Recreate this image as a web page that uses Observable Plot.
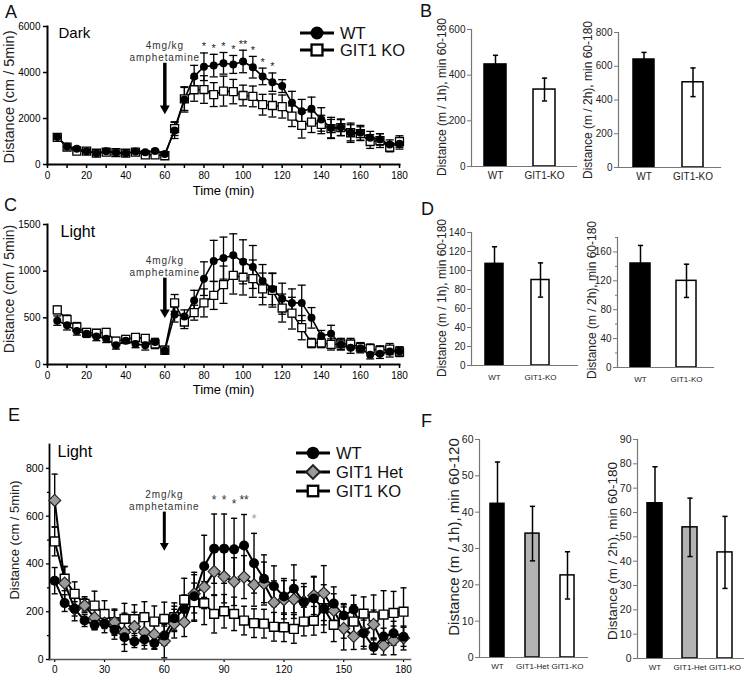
<!DOCTYPE html>
<html><head><meta charset="utf-8">
<script src="https://cdn.jsdelivr.net/npm/d3@7"></script>
<script src="https://cdn.jsdelivr.net/npm/@observablehq/plot@0.6"></script>
<style>
body{margin:0;background:#fff;}
#root{position:relative;width:746px;height:676px;overflow:hidden;background:#fff;}
.ann{letter-spacing:0.9px;}
</style></head><body><div id="root"></div><script>
// ---------------- DATA ----------------
const timeMin = [5,10,15,20,25,30,35,40,45,50,55,60,65,70,75,80,85,90,95,100,105,110,115,120,125,130,135,140,145,150,155,160,165,170,175,180];

// Panel A (Dark, 4 mg/kg)
const aWT    = [1200,780,680,580,490,580,520,490,565,536,590,460,1480,2830,3830,4250,4300,4400,4350,4480,4230,3830,3580,3410,2680,2320,2420,1960,1590,1620,1380,1380,1160,1090,870,900];
const aWTerr = [110,90,80,70,60,70,60,60,60,60,70,80,350,550,480,600,490,470,390,490,470,360,400,280,500,510,510,510,460,360,420,320,280,250,200,230];
const aKO    = [1180,760,580,580,490,540,520,490,540,420,420,380,1560,2850,3250,3260,3040,3190,3170,3000,2960,2600,2565,2520,2100,1700,1840,1740,1560,1600,1380,1340,1000,1040,750,1000];
const aKOerr = [100,80,70,70,70,70,70,70,70,80,70,60,300,500,500,600,520,650,530,450,450,450,500,500,450,550,450,400,400,350,350,300,300,300,200,250];
const aStarTimes = [80,85,90,95,100,105,110,115];
const aStarLabels = ["*","*","*","*","**","*","*","*"];

// Panel C (Light, 4 mg/kg)
const cWT    = [470,420,360,330,300,275,205,255,220,205,240,150,535,515,685,920,1110,1140,1170,1100,1045,895,810,705,660,660,500,305,330,215,180,175,105,115,140,140];
const cWTerr = [50,50,45,40,45,40,40,30,40,50,40,40,80,70,110,180,220,225,230,236,230,176,170,166,150,190,110,60,90,60,60,50,45,50,60,50];
const cKO    = [585,480,400,345,335,345,250,270,290,280,220,155,660,455,555,660,740,855,955,935,920,810,795,605,550,395,230,230,215,220,220,185,170,150,165,135];
const cKOerr = [40,50,50,40,40,40,40,40,40,40,50,40,90,70,80,150,150,200,200,190,200,170,180,150,170,130,50,50,60,60,60,50,50,50,60,50];

// Panel E (Light, 2 mg/kg)
const eWT     = [330,236,212,163,145,150,125,93,75,84,68,100,173,210,265,390,464,464,461,477,403,338,307,264,296,240,255,213,234,184,209,110,52,96,110,95];
const eWTerr  = [55,35,30,25,20,20,40,30,25,25,25,40,50,60,100,130,145,145,130,130,125,100,85,75,100,65,90,100,70,50,60,55,30,35,50,40];
const eHet    = [666,320,212,226,175,152,156,114,138,114,105,77,150,156,275,303,368,347,326,345,313,318,239,250,252,243,268,278,205,130,97,114,147,59,80,90];
const eHetErr = [110,70,50,30,50,40,50,80,60,70,60,70,60,60,80,90,100,110,100,90,90,90,90,80,80,75,80,115,70,90,55,70,60,40,60,50];
const eKO     = [494,338,275,233,226,191,156,170,169,177,159,170,177,250,240,236,191,202,191,163,152,150,137,135,128,159,162,215,145,159,159,192,180,188,195,200];
const eKOerr  = [60,50,50,30,60,55,55,65,60,65,65,70,60,90,80,90,80,70,70,60,60,60,60,60,60,60,60,70,70,70,70,70,90,100,90,100];
const eStarTimes = [85,90,95,100,105];
const eStarLabels = ["*","*","*","**","*"];
const eStarColors = ["#333","#333","#333","#333","#999"];

// Bar panels
const catsKO = ["WT","GIT1-KO"];
const catsAll = ["WT","GIT1-Het","GIT1-KO"];
const bLeftVals = [447,337],  bLeftErr = [40,50];
const bRightVals = [640,505], bRightErr = [42,85];
const dLeftVals = [107,90],   dLeftErr = [18,18];
const dRightVals = [144,120], dRightErr = [25,23];
const fLeftVals = [42.3,34.1,22.6], fLeftErr = [11.5,7.5,6.5];
const fRightVals = [63.8,53.9,43.6], fRightErr = [15,12,14.8];
const barFills2 = ["#000","#fff"];
const barFills3 = ["#000","#b3b3b3","#fff"];

// ticks
const xTicksAC = [0,10,20,30,40,50,60,70,80,90,100,110,120,130,140,150,160,170,180];
const yTicksA = [0,2000,4000,6000];
const yTicksC = [0,500,1000,1500];
const xTicksE = [5,30,60,90,120,150,180];
const yTicksE = [0,200,400,600,800];
const yMinorE = [100,300,500,700];

// annotations
const injTime = 60;
const arrowA = {top:4400, tip:2200, label:"4mg/kg\namphetamine"};
const arrowC = {top:925, tip:500, label:"4mg/kg\namphetamine"};
const arrowE = {top:617, tip:456, label:"2mg/kg\namphetamine"};

// axis titles (rotated) and panel letters
const yTitles = ["Distance (cm / 5min)","Distance (cm / 5min)","Distance (cm / 5min)",
  "Distance (m / 1h), min 60-180","Distance (m / 2h), min 60-180",
  "Distance (m / 1h), min 60-180","Distance (m / 2h), min 60-180",
  "Distance (m / 1h), min 60-120","Distance (m / 2h), min 60-180"];
const yTitlePos = [[9,97,14.5],[9,289,14],[14,540,13],[442,97,12],[588,100,12],[442,298,12],[592,300,12],[453,537,15],[612,551,13.5]];
const panelLetters = ["A","B","C","D","E","F"];
const letterPos = [[5,18],[420,17],[4,211],[421,215],[8,421],[421,427]];
const legendA = [{label:"WT", sym:"circle"},{label:"GIT1 KO", sym:"square"}];
const legendE = [{label:"WT", sym:"circle"},{label:"GIT1 Het", sym:"diamond"},{label:"GIT1 KO", sym:"square"}];

// ---------------- HELPERS ----------------
const FONT = '"Liberation Sans", Arial, Helvetica, sans-serif';
const root = document.getElementById("root");
const capSym = {draw(ctx, size){ const r = Math.sqrt(size/Math.PI); ctx.moveTo(-r,0); ctx.lineTo(r,0); }};
const plain = d => String(d);

function place(svg, left, top){
  svg.style.position = "absolute";
  svg.style.left = left + "px";
  svg.style.top = top + "px";
  root.appendChild(svg);
}
function tidy(series){
  return series.flatMap(s => timeMin.map((t,i) => ({t, s:s.name, v:s.mean[i], lo:s.mean[i]-s.err[i], hi:s.mean[i]+s.err[i]})));
}
function errorBars(rows, x, capR, sw){
  return [
    Plot.ruleX(rows, {x, y1:"lo", y2:"hi", stroke:"#000", strokeWidth:sw}),
    Plot.dot(rows, {x, y:"hi", symbol:capSym, r:capR, stroke:"#000", fill:"none", strokeWidth:sw}),
    Plot.dot(rows, {x, y:"lo", symbol:capSym, r:capR, stroke:"#000", fill:"none", strokeWidth:sw})
  ];
}
function arrowMarks(a, shaftW, headR, headDy){
  const d = [{t:injTime, top:a.top, tip:a.tip, label:a.label}];
  return [
    Plot.ruleX(d, {x:"t", y1:"top", y2:"tip", stroke:"#000", strokeWidth:shaftW, insetBottom:5}),
    Plot.dot(d, {x:"t", y:"tip", symbol:"triangle", rotate:180, r:headR, fill:"#000", stroke:"none", dy:headDy}),
    Plot.text(d, {x:"t", y:"top", text:"label", lineAnchor:"bottom", dy:-2, fontSize:10, lineHeight:1.2, fill:"#333", className:"ann"})
  ];
}
function starRows(times, labels, mean, err, colors){
  return times.map((t,i) => { const k = timeMin.indexOf(t); return {t, lab:labels[i], y:mean[k]+err[k], c: colors ? colors[i] : "#222"}; });
}

// ---------------- PANEL A ----------------
{
  const rows = tidy([{name:"WT", mean:aWT, err:aWTerr},{name:"GIT1 KO", mean:aKO, err:aKOerr}]);
  const stars = starRows(aStarTimes, aStarLabels, aWT, aWTerr);
  const svg = Plot.plot({
    width:405, height:200, marginLeft:47, marginRight:6, marginTop:26, marginBottom:36,
    x:{domain:[0,180]}, y:{domain:[0,6000]},
    style:{fontFamily:FONT, background:"transparent", overflow:"visible", color:"#000"},
    marks:[
      Plot.axisY(yTicksA, {tickSize:4, tickPadding:3, fontSize:10, label:null, strokeWidth:1.5, tickFormat:plain}),
      Plot.axisX(xTicksAC, {tickSize:4, tickPadding:3, fontSize:10, label:null, strokeWidth:1.5, tickFormat:d => d % 20 === 0 ? String(d) : ""}),
      Plot.frame({anchor:"left", strokeWidth:2}),
      Plot.frame({anchor:"bottom", strokeWidth:2}),
      ...errorBars(rows, "t", 4, 1.3),
      Plot.line(rows, {x:"t", y:"v", z:"s", stroke:"#000", strokeWidth:1.6}),
      Plot.dot(rows.filter(d => d.s === "GIT1 KO"), {x:"t", y:"v", symbol:"square", r:4.5, fill:"#fff", stroke:"#000", strokeWidth:1.3}),
      Plot.dot(rows.filter(d => d.s === "WT"), {x:"t", y:"v", symbol:"circle", r:4, fill:"#000", stroke:"none"}),
      Plot.text(stars, {x:"t", y:"y", text:"lab", dy:-6, fontSize:11, fill:"#222"}),
      ...arrowMarks(arrowA, 3.5, 3.7, -5.5),
      Plot.text(["Dark"], {text:d => d, frameAnchor:"top-left", dx:11, dy:1, lineAnchor:"top", textAnchor:"start", fontSize:15}),
      Plot.text(["Time (min)"], {text:d => d, frameAnchor:"bottom", lineAnchor:"middle", dy:26, fontSize:13})
    ]
  });
  place(svg, 0, 0);
}

// ---------------- PANEL C ----------------
{
  const rows = tidy([{name:"WT", mean:cWT, err:cWTerr},{name:"GIT1 KO", mean:cKO, err:cKOerr}]);
  const svg = Plot.plot({
    width:405, height:210, marginLeft:47, marginRight:6, marginTop:34, marginBottom:36,
    x:{domain:[0,180]}, y:{domain:[0,1500]},
    style:{fontFamily:FONT, background:"transparent", overflow:"visible", color:"#000"},
    marks:[
      Plot.axisY(yTicksC, {tickSize:4, tickPadding:3, fontSize:10, label:null, strokeWidth:1.5, tickFormat:plain}),
      Plot.axisX(xTicksAC, {tickSize:4, tickPadding:3, fontSize:10, label:null, strokeWidth:1.5, tickFormat:d => d % 20 === 0 ? String(d) : ""}),
      Plot.frame({anchor:"left", strokeWidth:2}),
      Plot.frame({anchor:"bottom", strokeWidth:2}),
      ...errorBars(rows, "t", 4, 1.3),
      Plot.line(rows, {x:"t", y:"v", z:"s", stroke:"#000", strokeWidth:1.6}),
      Plot.dot(rows.filter(d => d.s === "GIT1 KO"), {x:"t", y:"v", symbol:"square", r:4.5, fill:"#fff", stroke:"#000", strokeWidth:1.3}),
      Plot.dot(rows.filter(d => d.s === "WT"), {x:"t", y:"v", symbol:"circle", r:4, fill:"#000", stroke:"none"}),
      ...arrowMarks(arrowC, 3.5, 3.7, -5.5),
      Plot.text(["Light"], {text:d => d, frameAnchor:"top-left", dx:13, dy:1, lineAnchor:"top", textAnchor:"start", fontSize:16}),
      Plot.text(["Time (min)"], {text:d => d, frameAnchor:"bottom", lineAnchor:"middle", dy:25, fontSize:13})
    ]
  });
  place(svg, 0, 190);
}

// ---------------- PANEL E ----------------
{
  const rows = tidy([{name:"WT", mean:eWT, err:eWTerr},{name:"GIT1 Het", mean:eHet, err:eHetErr},{name:"GIT1 KO", mean:eKO, err:eKOerr}]);
  const stars = starRows(eStarTimes, eStarLabels, eWT, eWTerr, eStarColors);
  const svg = Plot.plot({
    width:415, height:286, marginLeft:49, marginRight:5, marginTop:54, marginBottom:17,
    x:{domain:[2.4,183.5]}, y:{domain:[0,900]},
    color:{type:"identity"},
    style:{fontFamily:FONT, background:"transparent", overflow:"visible", color:"#000"},
    marks:[
      Plot.axisY(yTicksE, {tickSize:3, tickPadding:3, fontSize:10.5, label:null, strokeWidth:1.3, tickFormat:plain}),
      Plot.axisY(yMinorE, {tickSize:2, tickFormat:() => "", label:null, strokeWidth:1.2}),
      Plot.axisX(xTicksE, {tickSize:3, tickPadding:3, fontSize:10, label:null, strokeWidth:1.2, tickFormat:d => d === 5 ? "0" : String(d)}),
      Plot.frame({anchor:"left", strokeWidth:1.8}),
      Plot.frame({anchor:"bottom", stroke:"#555", strokeWidth:1.5}),
      ...errorBars(rows, "t", 3, 1.4),
      Plot.line(rows, {x:"t", y:"v", z:"s", stroke:"#000", strokeWidth:2}),
      Plot.dot(rows.filter(d => d.s === "GIT1 KO"), {x:"t", y:"v", symbol:"square", r:5, fill:"#fff", stroke:"#000", strokeWidth:1.4}),
      Plot.dot(rows.filter(d => d.s === "GIT1 Het"), {x:"t", y:"v", symbol:"diamond2", r:5.4, fill:"#9a9a9a", stroke:"#222", strokeWidth:1.2}),
      Plot.dot(rows.filter(d => d.s === "WT"), {x:"t", y:"v", symbol:"circle", r:5, fill:"#000", stroke:"none"}),
      Plot.text(stars, {x:"t", y:"y", text:"lab", fill:"c", dy:-14, fontSize:12}),
      ...arrowMarks(arrowE, 3, 3.3, -5),
      Plot.text(["Light"], {text:d => d, frameAnchor:"top-left", dx:8, dy:1, lineAnchor:"top", textAnchor:"start", fontSize:16})
    ]
  });
  place(svg, 0, 390);
}

// ---------------- BAR PANELS ----------------
function barChart(o){
  const rows = o.cats.map((c,i) => ({c, v:o.vals[i], lo:o.vals[i]-o.errs[i], hi:o.vals[i]+o.errs[i], f:o.fills[i]}));
  const marks = [
    Plot.barY(rows, {x:"c", y:"v", fill:"f", stroke:"#000", strokeWidth:1.5}),
    ...errorBars(rows, "c", 2.6, 1.5),
    Plot.axisY(o.yTicks, {tickSize:4, tickPadding:2, fontSize:o.tickFs, label:null, stroke:"#777", fill:"#222", tickFormat:plain}),
    Plot.axisX({tickSize:0, tickPadding:o.xPad, fontSize:o.xFs, label:null, fill:"#222"}),
    Plot.frame({anchor:"left", stroke:"#777", strokeWidth:1.2}),
    Plot.frame({anchor:"bottom", stroke:"#777", strokeWidth:1.2})
  ];
  if (o.yMinor) marks.push(Plot.axisY(o.yMinor, {tickSize:2, tickFormat:() => "", label:null, stroke:"#777"}));
  const svg = Plot.plot({
    width:o.w, height:o.h, marginLeft:o.ml, marginRight:o.mr, marginTop:o.mt, marginBottom:o.mb,
    x:{domain:o.cats, paddingInner:o.pad, paddingOuter:o.pad/2, insetRight:o.insetR || 0},
    y:{domain:o.yDomain},
    color:{type:"identity"},
    style:{fontFamily:FONT, background:"transparent", overflow:"visible", color:"#000"},
    marks
  });
  place(svg, o.left, o.top);
}

barChart({left:420, top:0, w:165, h:190, ml:51, mr:9, mt:29, mb:24, cats:catsKO, vals:bLeftVals, errs:bLeftErr, fills:barFills2,
  yDomain:[0,600], yTicks:[0,200,400,600], pad:0.55, insetR:7, tickFs:10, xFs:10, xPad:5});
barChart({left:580, top:0, w:160, h:190, ml:38, mr:20, mt:32, mb:23, cats:catsKO, vals:bRightVals, errs:bRightErr, fills:barFills2,
  yDomain:[0,800], yTicks:[0,200,400,600,800], pad:0.58, insetR:3, tickFs:10, xFs:10, xPad:5});
barChart({left:420, top:190, w:165, h:200, ml:51, mr:8, mt:42, mb:25, cats:catsKO, vals:dLeftVals, errs:dLeftErr, fills:barFills2,
  yDomain:[0,140], yTicks:[0,20,40,60,80,100,120,140], pad:0.6, insetR:13, tickFs:10, xFs:8, xPad:9});
barChart({left:580, top:190, w:160, h:200, ml:37, mr:27, mt:47, mb:23, cats:catsKO, vals:dRightVals, errs:dRightErr, fills:barFills2,
  yDomain:[0,180], yTicks:[0,40,80,120,160], yMinor:[20,60,100,140,180], pad:0.56, insetR:3, tickFs:10, xFs:8, xPad:9});
barChart({left:420, top:390, w:175, h:286, ml:59, mr:8, mt:49, mb:19, cats:catsAll, vals:fLeftVals, errs:fLeftErr, fills:barFills3,
  yDomain:[0,60], yTicks:[0,10,20,30,40,50,60], pad:0.6, insetR:3, tickFs:10.5, xFs:8, xPad:6});
barChart({left:595, top:390, w:151, h:286, ml:42, mr:3, mt:49, mb:18, cats:catsAll, vals:fRightVals, errs:fRightErr, fills:barFills3,
  yDomain:[0,90], yTicks:[0,10,20,30,40,50,60,70,80,90], pad:0.57, insetR:0, tickFs:10.5, xFs:8, xPad:6});

// ---------------- LETTERS, AXIS TITLES & LEGENDS ----------------
const ov = d3.create("svg").attr("width",746).attr("height",676)
  .style("position","absolute").style("left","0px").style("top","0px")
  .style("font-family",FONT).style("pointer-events","none");
ov.selectAll("text.letter").data(panelLetters).join("text").attr("class","letter")
  .attr("x",(d,i) => letterPos[i][0]).attr("y",(d,i) => letterPos[i][1])
  .attr("font-size",18).attr("fill","#111").text(d => d);
ov.selectAll("text.ytitle").data(yTitles).join("text").attr("class","ytitle")
  .attr("transform",(d,i) => `translate(${yTitlePos[i][0]},${yTitlePos[i][1]}) rotate(-90)`)
  .attr("text-anchor","middle").attr("dominant-baseline","central")
  .attr("font-size",(d,i) => yTitlePos[i][2]).attr("fill","#222").text(d => d);

function drawLegend(items, x0, y0, dy, size){
  const g = ov.append("g").attr("transform",`translate(${x0},${y0})`);
  items.forEach((it,i) => {
    const row = g.append("g").attr("transform",`translate(0,${i*dy})`);
    row.append("line").attr("x1",0).attr("x2",34).attr("y1",0).attr("y2",0).attr("stroke","#000").attr("stroke-width",3);
    if (it.sym === "circle") row.append("circle").attr("cx",17).attr("cy",0).attr("r",size/2).attr("fill","#000");
    if (it.sym === "square") row.append("rect").attr("x",17-size*0.42).attr("y",-size*0.42).attr("width",size*0.84).attr("height",size*0.84).attr("fill","#fff").attr("stroke","#000").attr("stroke-width",2.3);
    if (it.sym === "diamond") row.append("path").attr("d",`M17,${-size*0.55}L${17+size*0.55},0L17,${size*0.55}L${17-size*0.55},0Z`).attr("fill","#9a9a9a").attr("stroke","#222").attr("stroke-width",2);
    row.append("text").attr("x",40).attr("y",0).attr("dominant-baseline","central").attr("font-size",16.5).attr("fill","#111").text(it.label);
  });
}
drawLegend(legendA, 300, 33, 17, 13);
drawLegend(legendE, 296, 453, 19, 12.5);
root.appendChild(ov.node());
</script></body></html>
